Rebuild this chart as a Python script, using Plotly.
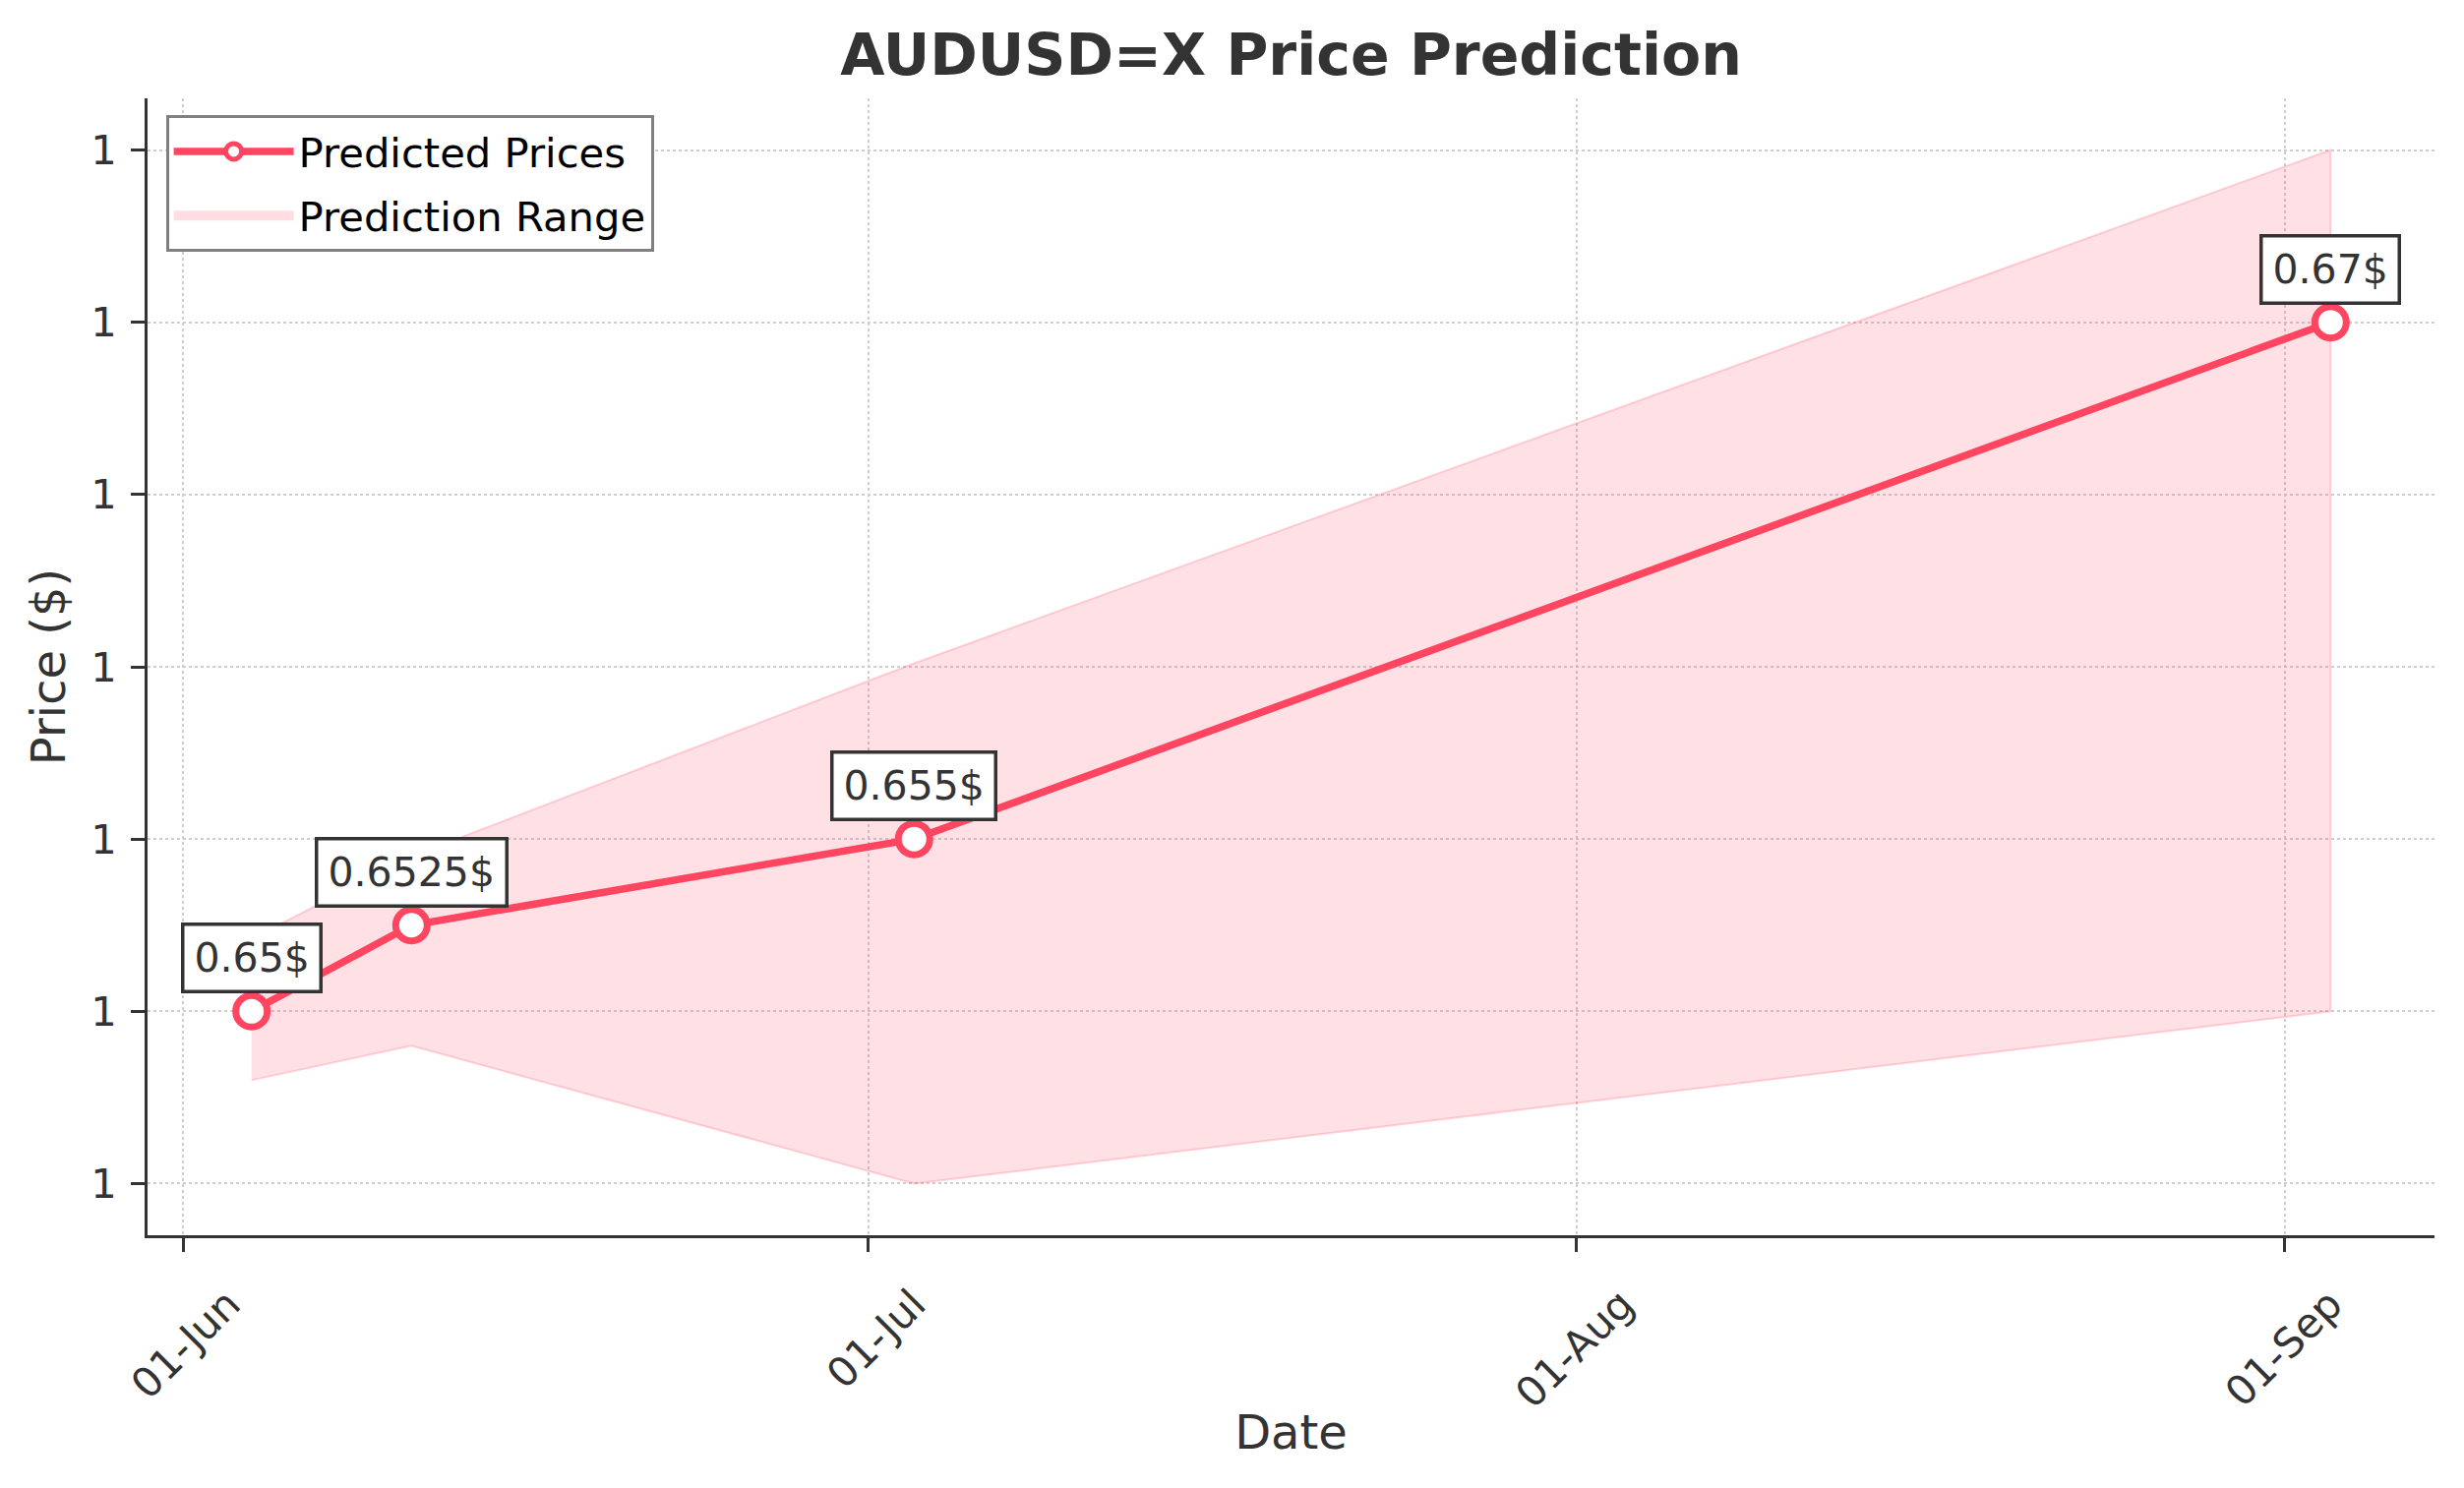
import pandas as pd
import plotly.graph_objects as go

# ---- data ----
dates = ["2024-06-04", "2024-06-11", "2024-07-03", "2024-09-03"]
predicted = [0.65, 0.6525, 0.655, 0.67]
lower_bound = [0.648, 0.649, 0.645, 0.65]
upper_bound = [0.6521, 0.6545, 0.6601, 0.675]

y_tick_vals = [0.645, 0.65, 0.655, 0.66, 0.665, 0.67, 0.675]
y_tick_text = ["1", "1", "1", "1", "1", "1", "1"]
x_tick_vals = ["2024-06-01", "2024-07-01", "2024-08-01", "2024-09-01"]
x_tick_text = ["01-Jun", "01-Jul", "01-Aug", "01-Sep"]

title_text = "AUDUSD=X Price Prediction"
x_title = "Date"
y_title = "Price ($)"

# ---- styling ----
RED = "#FF4560"
FILL = "rgba(255,69,96,0.16)"
EDGE = "rgba(255,69,96,0.22)"
DARK = "#333333"
FONT = "DejaVu Sans"

W, H = 2497, 1505  # page body adds an 8px offset

d = pd.to_datetime(dates)
span = d.max() - d.min()
x_range = [d.min() - 0.05 * span, d.max() + 0.05 * span]
yspan = max(upper_bound) - min(lower_bound)
y_range = [min(lower_bound) - 0.05 * yspan, max(upper_bound) + 0.05 * yspan]

poly_x = list(d) + list(d[::-1])
poly_y = list(upper_bound) + list(lower_bound[::-1])

fig = go.Figure()

# shaded prediction range (polygon from upper and lower bounds)
fig.add_trace(go.Scatter(
    x=poly_x, y=poly_y, mode="lines", fill="toself",
    fillcolor=FILL, line=dict(color=EDGE, width=2),
    name="Prediction Range", showlegend=False, legendgroup="b",
    hoverinfo="skip",
))
# legend entry for the range: a thick pale swatch
fig.add_trace(go.Scatter(
    x=[None], y=[None], mode="lines",
    line=dict(color="rgba(255,69,96,0.18)", width=30),
    name="Prediction Range", legendrank=2, legendgroup="b",
))
fig.add_trace(go.Scatter(
    x=d, y=predicted, mode="lines+markers",
    line=dict(color=RED, width=7.5),
    marker=dict(symbol="circle", size=32, color="white",
                line=dict(color=RED, width=7)),
    name="Predicted Prices", legendrank=1, legendgroup="a",
))

for xi, yi in zip(d, predicted):
    fig.add_annotation(
        x=xi, y=yi, text=f"{yi}$", showarrow=False,
        yshift=54, xanchor="center", yanchor="middle",
        font=dict(family=FONT, size=41, color=DARK),
        bgcolor="white", bordercolor=DARK, borderwidth=3.5, borderpad=10,
        height=45,
    )

fig.update_layout(
    width=W, height=H,
    paper_bgcolor="white", plot_bgcolor="white",
    margin=dict(l=142, r=30, t=92, b=257, autoexpand=False),
    font=dict(family=FONT, color=DARK),
    title=dict(
        text=f"<b>{title_text}</b>", x=(142 + W - 30) / 2 / W, xanchor="center",
        y=1 - 48 / H, yanchor="middle", yref="container",
        font=dict(family=FONT, size=58.5, color=DARK),
    ),
    legend=dict(
        x=0.008, y=0.985, xanchor="left", yanchor="top",
        bgcolor="white", bordercolor="#808080", borderwidth=3,
        font=dict(family=FONT, size=41.7, color="black"),
        itemwidth=122, traceorder="grouped", tracegroupgap=8,
    ),
    showlegend=True,
)

fig.update_xaxes(
    type="date", range=x_range,
    tickvals=pd.to_datetime(x_tick_vals), ticktext=x_tick_text,
    tickangle=-45, ticklabelshift=46, ticklabelstandoff=12,
    tickfont=dict(family=FONT, size=41.7, color=DARK),
    ticks="outside", ticklen=14, tickwidth=3, tickcolor=DARK,
    showline=True, linecolor=DARK, linewidth=3, mirror=False,
    showgrid=True, gridcolor="#cfcfcf", gridwidth=2, griddash="dot",
    zeroline=False,
    title=dict(text=x_title, font=dict(family=FONT, size=48, color=DARK), standoff=0),
)
fig.update_yaxes(
    range=y_range,
    tickvals=y_tick_vals, ticktext=y_tick_text,
    tickfont=dict(family=FONT, size=41.7, color=DARK),
    ticks="outside", ticklen=14, tickwidth=3, tickcolor=DARK,
    ticklabelstandoff=6,
    showline=True, linecolor=DARK, linewidth=3, mirror=False,
    showgrid=True, gridcolor="#cfcfcf", gridwidth=2, griddash="dot",
    zeroline=False,
    title=dict(text=y_title, font=dict(family=FONT, size=48, color=DARK), standoff=11),
)

fig.write_html("out.html")
